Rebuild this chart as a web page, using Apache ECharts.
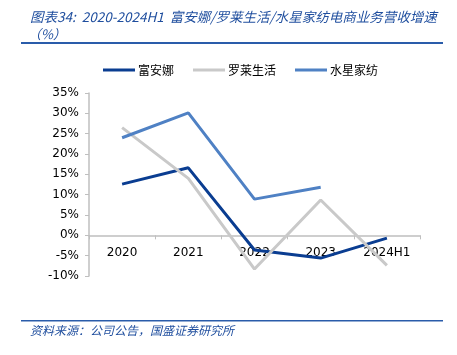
<!DOCTYPE html>
<html><head><meta charset="utf-8">
<script src="https://cdn.jsdelivr.net/npm/echarts@6/dist/echarts.min.js"></script>
<style>html,body{margin:0;padding:0;background:#fff}#c{width:457px;height:355px}</style>
</head><body><div id="c"></div>
<script>
const categories = ['2020','2021','2022','2023','2024H1'];
const fuanna = [12.6, 16.6, -3.6, -5.6, -0.7];
const luolai = [26.5, 14.0, -8.3, 8.7, -7.4];
const shuixing = [24.0, 30.1, 8.9, 11.8, null];
const seriesNames = ['富安娜','罗莱生活','水星家纺'];
const colors = ['#0A3D91','#C9C9C9','#4F81C4'];
const titleText = '图表34:  2020-2024H1  富安娜/罗莱生活/水星家纺电商业务营收增速';
const titleText2 = '（%）';
const sourceText = '资料来源：公司公告，国盛证券研究所';

const gridTop = 93, gridBottom = 79, chartH = 355;
const yMin = -10, yMax = 35;
const plotH = chartH - gridTop - gridBottom;
const zeroOffset = -plotH * (0 - yMin) / (yMax - yMin);

const chart = echarts.init(document.getElementById('c'), null, {renderer:'canvas'});
const font = '"Noto Sans CJK SC", "DejaVu Sans", sans-serif';
const axisFont = 'Tahoma, "DejaVu Sans", "Liberation Sans", sans-serif';
const mk = (name, data, color) => ({
  name, type:'line', data, symbol:'none', connectNulls:false,
  lineStyle:{width:3, color}, itemStyle:{color}
});
chart.setOption({
  animation:false,
  graphic:[
    {type:'text', left:30, top:10, style:{text:titleText, font:'italic 13.5px '+font, fill:'#1F4E9E'}},
    {type:'text', left:28, top:28, style:{text:titleText2, font:'italic 13px '+font, fill:'#1F4E9E'}},
    {type:'rect', shape:{x:21, y:42, width:422, height:2}, style:{fill:'#2A5CAA'}},
    {type:'rect', shape:{x:21, y:320, width:422, height:1.5}, style:{fill:'#2A5CAA'}},
    {type:'text', left:30, top:324, style:{text:sourceText, font:'italic 12px '+font, fill:'#1F4E9E'}}
  ],
  legend:{
    left:98, top:59, itemWidth:32, itemHeight:3, itemGap:19, icon:'rect',
    textStyle:{fontFamily:font, fontSize:12, color:'#000', padding:[0,0,0,-2]},
    data:seriesNames
  },
  grid:{left:89, right:37, top:gridTop, bottom:gridBottom, containLabel:false},
  xAxis:{
    type:'category', data:categories, boundaryGap:true, position:'bottom',
    offset: zeroOffset,
    axisLine:{onZero:false, lineStyle:{color:'#BFBFBF', width:1.5}},
    axisTick:{show:true, length:4, lineStyle:{color:'#BFBFBF'}},
    axisLabel:{color:'#000', fontFamily:axisFont, fontSize:12, margin:12}
  },
  yAxis:{
    type:'value', min:yMin, max:yMax, interval:5,
    axisLine:{show:true, lineStyle:{color:'#BFBFBF', width:1.5}},
    axisTick:{show:true, length:4, lineStyle:{color:'#BFBFBF'}},
    splitLine:{show:false},
    axisLabel:{color:'#000', fontFamily:axisFont, fontSize:12, margin:10, formatter:'{value}%'}
  },
  series:[
    mk(seriesNames[0], fuanna, colors[0]),
    mk(seriesNames[1], luolai, colors[1]),
    mk(seriesNames[2], shuixing, colors[2])
  ]
});
</script></body></html>
